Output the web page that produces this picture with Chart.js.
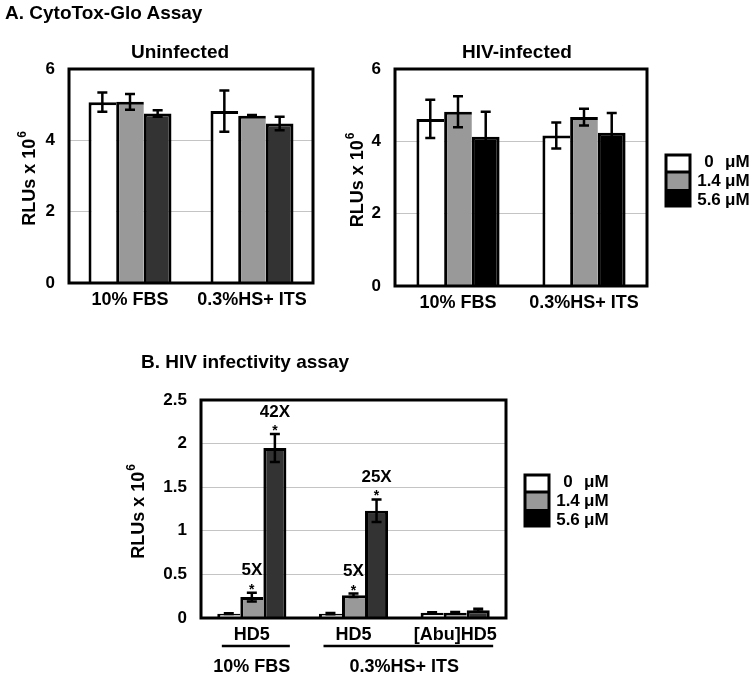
<!DOCTYPE html>
<html>
<head>
<meta charset="utf-8">
<script src="https://cdn.jsdelivr.net/npm/chart.js@4.4.0/dist/chart.umd.min.js"></script>
<style>
  body { margin: 0; background: #fff; width: 753px; height: 676px; position: relative; overflow: hidden; }
  canvas { position: absolute; left: 0; top: 0; }
  .head { position: absolute; font: bold 19px "Liberation Sans", Arial, sans-serif; line-height: 22px; color: #000; z-index: 5; white-space: nowrap; }
</style>
</head>
<body>
<div class="head" style="left:5px; top:2px">A. CytoTox-Glo Assay</div>
<div class="head" style="left:141px; top:351px">B. HIV infectivity assay</div>
<canvas id="c1" width="753" height="676"></canvas>
<canvas id="c2" width="753" height="676"></canvas>
<canvas id="c3" width="753" height="676"></canvas>
<script>
// doses (legend)
const doseLabels = ['0', '1.4', '5.6'];
const doseUnit = 'μM';

// A. CytoTox-Glo, two media conditions
const cytoCats = ['10% FBS', '0.3%HS+ ITS'];
const uninfValues = [[5.07, 4.82], [5.08, 4.69], [4.75, 4.47]];
const uninfErrors = [[0.27, 0.58], [0.22, 0.02], [0.09, 0.19]];
const hivValues = [[4.62, 4.16], [4.82, 4.67], [4.13, 4.24]];
const hivErrors = [[0.53, 0.36], [0.43, 0.23], [0.69, 0.54]];
const cytoTicks = [0, 2, 4, 6];

// B. HIV infectivity
const infCats = ['HD5', 'HD5', '[Abu]HD5'];
const infValues = [[0.05, 0.05, 0.06], [0.24, 0.26, 0.06], [1.95, 1.23, 0.09]];
const infErrors = [[0.005, 0.008, 0.005], [0.05, 0.02, 0.008], [0.16, 0.13, 0.015]];
const infFold = [['', '', ''], ['5X', '5X', ''], ['42X', '25X', '']];
const infGroups = ['10% FBS', '0.3%HS+ ITS'];
const infGroupSpans = [[0, 0], [1, 2]];
const infTicks = [0, 0.5, 1, 1.5, 2, 2.5];

const FONT = '"Liberation Sans", Arial, sans-serif';

// frame, error bars, titles, legend, fold labels
const extras = {
  id: 'extras',
  afterDatasetsDraw(chart) {
    const ctx = chart.ctx, y = chart.scales.y;
    ctx.save();
    ctx.strokeStyle = '#000';
    ctx.lineWidth = 2.5;
    chart.data.datasets.forEach((ds, di) => {
      chart.getDatasetMeta(di).data.forEach((bar, i) => {
        const v = ds.data[i], e = ds.errors[i];
        const t = y.getPixelForValue(v + e), b = y.getPixelForValue(v - e);
        ctx.beginPath();
        ctx.moveTo(bar.x, t); ctx.lineTo(bar.x, b);
        ctx.moveTo(bar.x - 5, t); ctx.lineTo(bar.x + 5, t);
        ctx.moveTo(bar.x - 5, b); ctx.lineTo(bar.x + 5, b);
        ctx.stroke();
      });
    });
    ctx.restore();
  },
  afterDraw(chart, args, o) {
    const ctx = chart.ctx, a = chart.chartArea, y = chart.scales.y, x = chart.scales.x;
    ctx.save();
    // plot frame
    ctx.strokeStyle = '#000';
    ctx.lineWidth = 3;
    ctx.strokeRect(a.left, a.top, a.right - a.left, a.bottom - a.top);

    ctx.fillStyle = '#000';
    // chart title
    if (o.title) {
      ctx.font = 'bold 19px ' + FONT;
      ctx.textAlign = 'center';
      ctx.textBaseline = 'middle';
      ctx.fillText(o.title, o.titleX, o.titleY);
    }

    // y axis title with superscript
    ctx.save();
    ctx.translate(a.left - o.yTitleOffset, (a.top + a.bottom) / 2 + 3);
    ctx.rotate(-Math.PI / 2);
    ctx.font = 'bold 18px ' + FONT;
    const main = 'RLUs x 10';
    const w1 = ctx.measureText(main).width;
    ctx.font = 'bold 12px ' + FONT;
    const w2 = ctx.measureText('6').width;
    let sx = -(w1 + w2) / 2;
    ctx.textAlign = 'left';
    ctx.textBaseline = 'middle';
    ctx.font = 'bold 18px ' + FONT;
    ctx.fillText(main, sx, 0);
    ctx.font = 'bold 12px ' + FONT;
    ctx.fillText('6', sx + w1 + 1, -7);
    ctx.restore();

    // legend
    if (o.legend) {
      const lx = o.legend.x, ly = o.legend.y, bw = 24, bh = 17;
      const fills = ['#ffffff', '#999999', '#000000'];
      fills.forEach((f, i) => {
        ctx.fillStyle = f;
        ctx.fillRect(lx, ly + i * bh, bw, bh);
      });
      ctx.lineWidth = 3;
      ctx.strokeRect(lx, ly, bw, bh * 3);
      ctx.beginPath();
      ctx.moveTo(lx, ly + bh); ctx.lineTo(lx + bw, ly + bh);
      ctx.stroke();
      ctx.fillStyle = '#000';
      ctx.font = 'bold 17px ' + FONT;
      ctx.textBaseline = 'middle';
      doseLabels.forEach((d, i) => {
        const ty = ly + 7 + i * 19;
        ctx.textAlign = 'center';
        ctx.fillText(d, lx + bw + 19, ty);
        ctx.textAlign = 'left';
        ctx.fillText(doseUnit, lx + bw + 35, ty);
      });
    }

    // fold-change labels
    if (o.fold) {
      ctx.textAlign = 'center';
      ctx.textBaseline = 'alphabetic';
      chart.data.datasets.forEach((ds, di) => {
        chart.getDatasetMeta(di).data.forEach((bar, i) => {
          const txt = o.fold[di][i];
          if (!txt) return;
          const t = y.getPixelForValue(ds.data[i] + ds.errors[i]);
          ctx.font = 'bold 14px ' + FONT;
          ctx.fillText('*', bar.x, t + 1);
          ctx.font = 'bold 17px ' + FONT;
          ctx.textBaseline = 'middle';
          ctx.fillText(txt, bar.x, t - 22);
          ctx.textBaseline = 'alphabetic';
        });
      });
    }

    // grouping lines under x labels
    if (o.groups) {
      ctx.font = 'bold 18px ' + FONT;
      ctx.textAlign = 'center';
      ctx.textBaseline = 'middle';
      ctx.lineWidth = 2.5;
      o.groups.forEach((g, gi) => {
        const span = o.groupSpans[gi];
        const x0 = x.getPixelForValue(span[0]), x1 = x.getPixelForValue(span[1]);
        ctx.beginPath();
        ctx.moveTo(x0 - 30, a.bottom + 28);
        ctx.lineTo(x1 + 38, a.bottom + 28);
        ctx.stroke();
        ctx.fillText(g, (x0 + x1) / 2, a.bottom + 49);
      });
    }
    ctx.restore();
  }
};

function makeBarChart(id, cfg) {
  const p = cfg.plot; // [left, top, right, bottom]
  const yw = 60, xh = 30;
  const datasets = cfg.values.map((v, i) => ({
    label: doseLabels[i] + ' ' + doseUnit,
    data: v,
    errors: cfg.errors[i],
    backgroundColor: cfg.colors[i],
    borderColor: '#000',
    borderWidth: i === 2 ? { top: 3, left: 3, right: 3 } : { top: 3, left: 3, right: 0 },
    borderSkipped: 'start',
    categoryPercentage: cfg.catPct,
    barPercentage: 1
  }));
  return new Chart(document.getElementById(id), {
    type: 'bar',
    data: { labels: cfg.labels, datasets },
    options: {
      responsive: false,
      animation: false,
      layout: { padding: { left: p[0] - yw, top: p[1], right: 753 - p[2], bottom: 676 - p[3] - xh } },
      plugins: {
        legend: { display: false },
        tooltip: { enabled: false },
        extras: cfg.extras
      },
      scales: {
        x: {
          grid: { display: false, drawTicks: false },
          border: { display: false },
          ticks: { color: '#000', font: { family: FONT, size: 18, weight: 'bold' }, padding: 6, maxRotation: 0, autoSkip: false },
          afterFit: s => { s.height = xh; }
        },
        y: {
          min: 0,
          max: cfg.ticks[cfg.ticks.length - 1],
          afterBuildTicks: s => { s.ticks = cfg.ticks.map(v => ({ value: v })); },
          grid: { color: '#c4c4c4', lineWidth: 1, drawTicks: false },
          border: { display: false },
          ticks: { color: '#000', font: { family: FONT, size: 17, weight: 'bold' }, padding: 14, callback: v => String(v) },
          afterFit: s => { s.width = yw; }
        }
      }
    },
    plugins: [extras]
  });
}

makeBarChart('c1', {
  plot: [69, 69, 313, 283],
  labels: cytoCats,
  values: uninfValues,
  errors: uninfErrors,
  colors: ['#ffffff', '#999999', '#333333'],
  catPct: 0.68,
  ticks: cytoTicks,
  extras: { title: 'Uninfected', titleX: 180, titleY: 53, yTitleOffset: 39 }
});

makeBarChart('c2', {
  plot: [395, 69, 647, 286],
  labels: cytoCats,
  values: hivValues,
  errors: hivErrors,
  colors: ['#ffffff', '#999999', '#000000'],
  catPct: 0.66,
  ticks: cytoTicks,
  extras: { title: 'HIV-infected', titleX: 517, titleY: 53, yTitleOffset: 37, legend: { x: 666, y: 155 } }
});

makeBarChart('c3', {
  plot: [201, 400, 506, 618],
  labels: infCats,
  values: infValues,
  errors: infErrors,
  colors: ['#ffffff', '#999999', '#333333'],
  catPct: 0.68,
  ticks: infTicks,
  extras: { yTitleOffset: 62, legend: { x: 525, y: 475 }, fold: infFold, groups: infGroups, groupSpans: infGroupSpans }
});
</script>
</body>
</html>
